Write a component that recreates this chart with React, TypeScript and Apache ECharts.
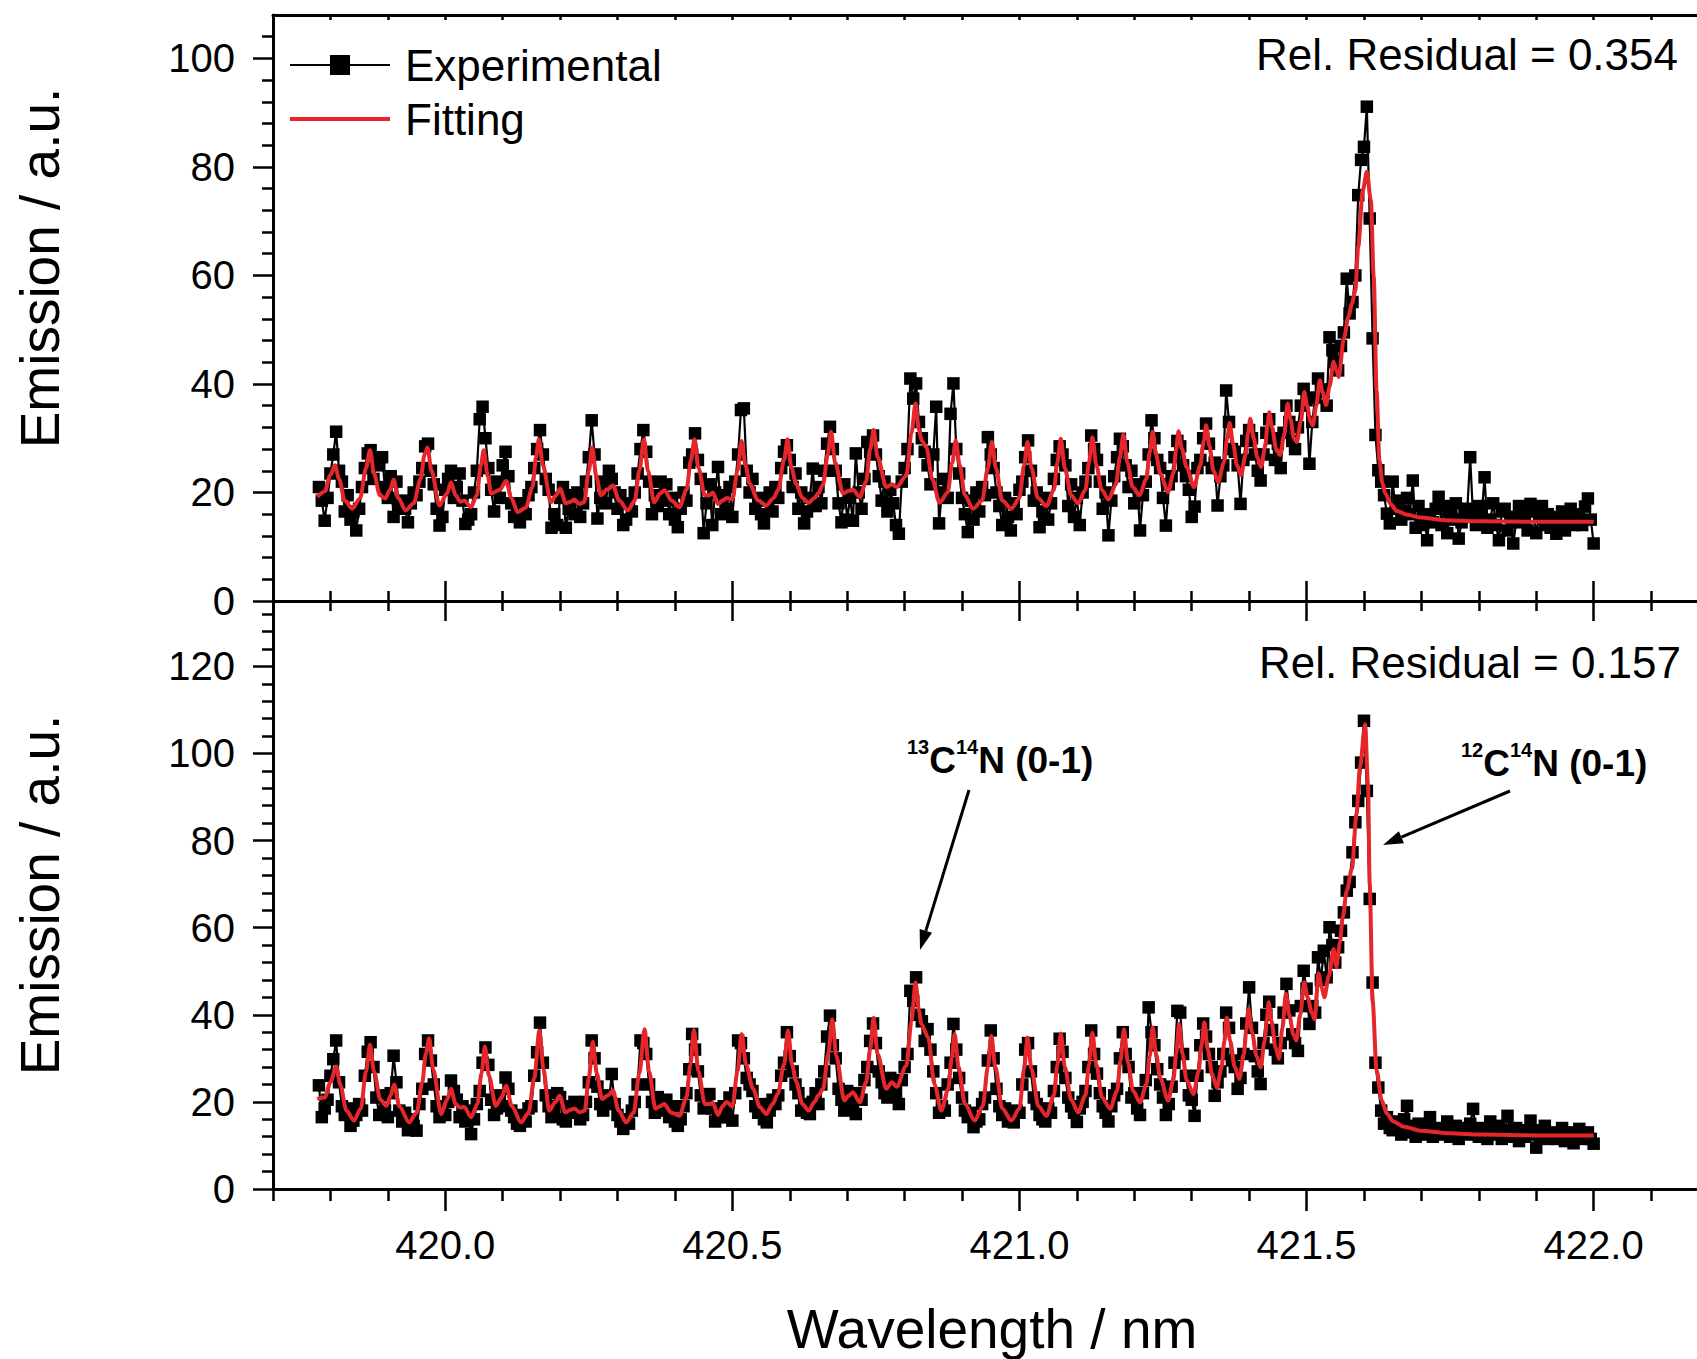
import { useEffect, useRef } from "react";
import * as echarts from "echarts";

// ---------------- data ----------------
// Experimental spectra are sampled on a uniform wavelength grid.
const WL_START = 419.78;
const WL_STEP = 0.005;

// Upper panel, experimental emission (a.u.), one row = 0.05 nm
const topExperimental: number[] = [
  21.0, 18.5, 14.8, 19.0, 23.5, 27.0, 31.2, 24.0, 22.0, 16.5,
  19.5, 15.0, 16.5, 13.0, 17.0, 21.0, 24.5, 27.2, 27.8, 22.5,
  26.0, 25.0, 26.5, 21.0, 19.0, 23.0, 15.5, 22.0, 17.0, 18.5,
  17.0, 14.5, 18.0, 20.0, 19.5, 22.0, 24.5, 28.5, 29.0, 24.0,
  21.5, 17.0, 13.9, 15.5, 20.5, 22.5, 24.0, 19.0, 21.0, 23.5,
  18.5, 14.2, 15.0, 16.0, 20.0, 24.0, 33.5, 35.8, 30.0, 24.5,
  20.5, 16.5, 22.0, 19.0, 25.0, 27.5, 23.0, 18.0, 15.5, 17.0,
  14.5, 18.0, 16.0, 19.5, 21.0, 24.5, 28.0, 31.5, 27.0, 22.5,
  20.5, 13.5, 16.0, 14.0, 19.0, 21.0, 13.5, 17.0, 19.5, 16.0,
  20.0, 15.5, 18.0, 22.0, 26.5, 33.3, 27.0, 15.2, 19.0, 22.0,
  18.0, 24.0, 22.5, 20.0, 17.0, 19.5, 14.0, 15.0, 18.0, 16.5,
  20.0, 23.5, 28.0, 31.5, 27.5, 22.0, 16.0, 19.5, 17.5, 22.0,
  18.5, 21.5, 16.0, 19.0, 15.0, 13.6, 17.0, 20.0, 18.5, 25.5,
  27.0, 30.9, 26.0, 22.5, 12.5, 18.0, 21.5, 14.0, 20.0, 24.7,
  16.0, 19.5, 17.0, 21.0, 15.5, 22.0, 27.0, 35.2, 35.5, 24.0,
  20.0, 22.5, 17.0, 19.0, 16.0, 14.3, 18.5, 20.0, 16.5, 21.0,
  19.0, 24.5, 27.5, 28.7, 26.0, 21.0, 23.5, 17.0, 20.0, 14.3,
  16.5, 19.0, 24.4, 17.5, 21.0, 18.0, 24.0, 29.0, 32.1, 28.0,
  24.0, 18.0, 14.5, 21.5, 15.0, 19.0, 14.8, 27.2, 20.0, 17.0,
  22.5, 29.3, 27.5, 30.5, 27.0, 23.0, 18.5, 22.0, 16.5, 20.5,
  18.0, 14.0, 12.4, 22.0, 24.5, 28.0, 41.0, 37.3, 40.1, 33.0,
  30.0, 27.5, 25.0, 21.5, 27.0, 35.8, 14.3, 20.0, 22.5, 19.0,
  34.5, 40.1, 28.0, 23.5, 19.0, 16.0, 12.7, 18.5, 15.0, 20.0,
  16.5, 21.0, 19.5, 30.2, 27.0, 24.5, 20.0, 17.5, 14.0, 19.0,
  15.5, 13.0, 18.0, 16.0, 20.5, 22.0, 26.5, 29.6, 24.0, 18.5,
  20.0, 13.6, 16.5, 19.0, 15.0, 18.0, 22.5, 26.0, 28.5, 27.0,
  25.0, 17.5, 21.5, 15.5, 19.0, 14.0, 20.0, 22.0, 24.5, 30.5,
  28.0, 26.0, 22.0, 17.0, 20.0, 12.1, 18.5, 23.0, 26.5, 29.9,
  28.5, 25.0, 21.0, 24.0, 18.0, 21.5, 13.0, 19.5, 22.0, 27.0,
  33.3, 30.0, 26.0, 24.5, 19.0, 13.9, 21.5, 23.0, 26.5, 29.5,
  28.5, 25.0, 23.0, 20.5, 15.5, 17.4, 24.5, 26.0, 30.0, 32.7,
  29.0, 24.5, 25.5, 17.6, 23.0, 25.0, 38.8, 33.0, 28.0, 27.5,
  25.0, 17.9, 26.0, 29.5, 31.5, 30.0, 27.0, 24.0, 22.2, 27.0,
  31.0, 33.5, 30.0, 26.0, 29.0, 24.5, 31.0, 36.0, 33.0, 29.5,
  28.0, 32.0, 36.0, 39.1, 37.0, 25.3, 33.0, 37.5, 41.0, 39.0,
  38.5, 36.0, 48.6, 46.2, 44.0, 42.5, 47.0, 49.5, 59.4, 53.0,
  55.1, 60.0, 74.8, 81.3, 83.7, 91.1, 70.5, 48.4, 30.6, 24.1,
  22.0, 19.5, 16.1, 14.3, 22.0, 17.0, 18.5, 15.0, 16.5, 19.0,
  16.0, 22.2, 13.5, 17.5, 14.0, 15.5, 11.2, 16.0, 14.5, 17.0,
  19.2, 14.0, 17.5, 12.5, 16.0, 15.0, 18.0, 11.5, 14.5, 16.5,
  17.0, 26.5, 15.5, 14.0, 17.5, 16.0, 22.8, 13.5, 15.0, 18.0,
  14.0, 11.2, 16.5, 17.0, 13.0, 15.5, 10.6, 14.5, 17.5, 16.0,
  15.0, 13.0, 17.9, 16.5, 12.5, 15.5, 17.5, 14.0, 16.0, 13.5,
  15.5, 12.4, 14.5, 16.5, 13.0, 15.0, 17.0, 14.0, 16.0, 15.0,
  14.0, 17.4, 18.9, 15.0, 10.6,
];

// Lower panel, experimental emission (a.u.)
const bottomExperimental: number[] = [
  23.8, 16.5, 18.5, 20.5, 26.0, 29.8, 34.1, 24.5, 19.0, 17.0,
  18.5, 14.5, 15.7, 17.0, 19.5, 18.0, 26.0, 31.5, 33.7, 28.0,
  21.0, 17.0, 21.5, 18.0, 16.5, 22.0, 30.6, 24.5, 18.0, 15.5,
  17.5, 13.5, 16.0, 14.5, 13.4, 19.5, 23.0, 31.0, 34.1, 29.5,
  24.0, 19.0, 16.5, 18.5, 17.0, 20.0, 24.9, 22.5, 20.5, 16.5,
  19.0, 15.5, 18.0, 12.6, 16.0, 19.5, 22.5, 29.0, 32.5, 28.5,
  20.5, 17.0, 18.5, 21.5, 19.0, 25.6, 23.0, 18.0, 16.5, 15.0,
  14.5, 17.0, 15.5, 18.5, 19.0, 26.0, 31.4, 38.2, 29.0, 21.5,
  19.0, 16.5, 18.5, 22.0, 21.1, 16.0, 15.5, 19.0, 17.5, 20.0,
  18.5, 16.0, 17.0, 20.0, 24.5, 34.1, 30.0, 23.5, 19.5, 18.0,
  21.5, 20.0, 26.4, 19.5, 17.0, 15.5, 13.8, 16.0, 15.0, 18.0,
  20.0, 24.0, 34.1, 33.5, 31.0, 24.0, 20.0, 17.5, 21.1, 18.0,
  18.5, 20.5, 16.5, 19.0, 15.5, 14.5, 16.0, 19.0, 22.0, 27.5,
  35.6, 32.0, 27.0, 21.5, 18.5, 20.0, 21.8, 18.5, 15.5, 17.5,
  16.5, 19.0, 16.5, 21.0, 15.7, 22.0, 34.1, 33.5, 30.0, 25.5,
  24.0, 22.5, 19.0, 17.5, 19.5, 16.0, 15.3, 18.0, 20.5, 19.5,
  21.5, 26.0, 29.0, 36.0, 30.5, 27.0, 24.0, 22.0, 18.0, 19.5,
  17.5, 17.2, 20.0, 22.0, 19.5, 24.0, 27.0, 35.0, 39.8, 33.0,
  30.0, 23.0, 20.5, 18.0, 22.5, 21.0, 19.5, 17.2, 22.0, 20.5,
  25.0, 28.0, 34.0, 38.0, 33.5, 27.0, 24.5, 22.0, 21.0, 25.5,
  23.0, 22.0, 19.5, 25.0, 28.0, 31.0, 45.5, 43.2, 48.6, 40.0,
  38.5, 34.0, 36.7, 32.0, 27.0, 22.0, 17.5, 19.0, 18.0, 24.0,
  29.0, 37.9, 32.0, 25.5, 21.0, 18.0, 16.5, 17.5, 14.2, 15.5,
  16.0, 19.5, 21.0, 29.5, 36.4, 30.0, 23.0, 19.0, 17.0, 18.5,
  15.5, 16.5, 15.3, 18.0, 17.5, 24.0, 32.0, 33.5, 27.0, 21.0,
  19.5, 17.0, 16.0, 15.5, 18.5, 17.5, 22.5, 28.0, 34.5, 31.5,
  25.5, 21.0, 19.0, 17.5, 15.4, 18.5, 20.0, 22.5, 28.0, 36.4,
  31.0, 26.5, 22.0, 19.0, 17.5, 15.5, 19.0, 21.5, 23.0, 30.0,
  36.0, 31.0, 28.0, 21.0, 22.0, 18.5, 17.0, 22.0, 25.0, 41.7,
  36.0, 33.0, 27.5, 24.0, 21.0, 17.0, 19.5, 23.5, 29.0, 40.9,
  40.5, 31.0, 26.0, 21.5, 20.5, 16.8, 26.0, 33.0, 38.0, 35.0,
  31.0, 28.0, 21.4, 24.5, 27.0, 31.0, 40.5, 37.0, 29.5, 28.0,
  23.0, 25.5, 31.0, 38.0, 46.3, 37.0, 30.5, 27.0, 24.1, 33.5,
  40.0, 43.0, 36.5, 32.0, 30.0, 33.5, 40.5, 47.1, 41.0, 35.5,
  33.5, 31.7, 42.0, 50.1, 46.0, 37.9, 42.0, 40.5, 53.2, 48.0,
  54.7, 48.6, 60.1, 56.0, 52.0, 55.5, 59.3, 63.5, 68.5, 70.5,
  77.3, 84.2, 89.1, 97.9, 107.5, 91.4, 66.6, 47.4, 29.0, 23.3,
  18.0, 15.0, 16.5, 14.0, 13.5, 15.5, 14.5, 12.5, 16.0, 19.1,
  13.0, 14.5, 12.0, 15.0, 13.5, 12.5, 14.0, 16.5, 12.0, 13.5,
  14.0, 12.5, 13.0, 15.5, 12.0, 13.5, 14.5, 11.5, 13.0, 14.0,
  12.5, 15.0, 18.4, 13.0, 12.0, 14.0, 13.5, 11.5, 15.5, 12.5,
  13.0, 14.5, 11.5, 12.5, 16.8, 13.5, 12.0, 14.0, 11.0, 13.5,
  12.0, 13.5, 15.7, 12.5, 9.5, 13.5, 12.0, 14.5, 11.5, 12.5,
  13.0, 11.5, 12.5, 14.0, 11.0, 12.5, 13.0, 10.5, 12.0, 13.8,
  12.0, 11.5, 13.0, 11.5, 10.4,
];

// Upper panel, fitted curve [wavelength nm, emission]
const topFitting: number[][] = [
  [419.777, 19.2], [419.79, 20.2], [419.8, 23.2], [419.808, 25.0], [419.815, 22.5], [419.825, 18.5], [419.838, 17.0],
  [419.852, 19.0], [419.862, 24.5], [419.869, 27.8], [419.876, 23.5], [419.886, 19.5], [419.895, 18.9], [419.904, 20.5], [419.91, 22.4], [419.918, 19.0], [419.931, 16.7],
  [419.945, 18.0], [419.957, 22.5], [419.964, 27.0], [419.969, 28.3], [419.976, 24.0], [419.99, 17.6], [420.003, 19.8], [420.01, 21.9], [420.018, 19.5], [420.026, 18.3], [420.033, 18.5], [420.045, 17.3],
  [420.055, 19.5], [420.062, 25.0], [420.067, 27.8], [420.074, 23.0], [420.08, 19.8], [420.095, 20.5], [420.106, 22.1], [420.115, 19.0], [420.126, 16.4],
  [420.14, 17.2], [420.152, 21.0], [420.158, 26.5], [420.163, 29.8], [420.17, 25.0], [420.184, 18.2], [420.193, 19.5], [420.2, 20.7], [420.21, 18.0], [420.218, 18.3], [420.225, 18.7], [420.233, 17.9], [420.242, 18.2],
  [420.25, 24.0], [420.256, 28.3], [420.263, 23.0], [420.271, 19.5], [420.283, 20.6], [420.292, 21.3], [420.303, 18.5], [420.318, 16.7],
  [420.33, 18.5], [420.338, 24.0], [420.346, 29.8], [420.353, 24.0], [420.364, 18.2], [420.374, 19.8], [420.382, 20.4], [420.394, 18.5], [420.408, 17.3],
  [420.42, 20.5], [420.428, 26.0], [420.434, 29.8], [420.441, 24.5], [420.452, 19.5], [420.46, 19.5], [420.466, 20.0], [420.475, 17.9], [420.483, 18.5], [420.49, 19.0], [420.5, 18.7],
  [420.509, 24.0], [420.516, 29.5], [420.523, 25.0], [420.53, 21.6], [420.545, 18.5], [420.559, 17.6], [420.572, 19.0], [420.58, 20.5], [420.59, 26.0], [420.596, 29.8], [420.603, 24.5], [420.611, 21.6], [420.622, 19.0], [420.633, 18.1],
  [420.643, 19.0], [420.65, 19.9], [420.658, 21.5], [420.666, 27.0], [420.672, 31.2], [420.679, 25.5], [420.693, 19.8], [420.703, 20.3], [420.71, 20.5], [420.722, 19.2],
  [420.733, 22.0], [420.74, 28.0], [420.746, 31.5], [420.753, 26.5], [420.768, 21.0], [420.778, 21.5], [420.786, 21.0], [420.803, 23.1], [420.812, 31.0], [420.819, 36.4], [420.825, 31.5], [420.83, 29.5], [420.838, 28.3], [420.848, 22.5], [420.861, 18.1],
  [420.875, 20.0], [420.883, 25.5], [420.889, 29.6], [420.896, 25.0], [420.905, 19.5], [420.919, 17.0], [420.935, 18.5], [420.945, 24.5], [420.952, 29.3], [420.959, 24.5], [420.97, 18.5], [420.986, 17.0],
  [421.0, 19.0], [421.008, 25.0], [421.014, 29.3], [421.021, 24.5], [421.032, 19.0], [421.047, 17.5],
  [421.06, 20.5], [421.066, 25.5], [421.072, 29.9], [421.079, 24.5], [421.09, 19.5], [421.102, 18.0], [421.115, 20.5], [421.121, 25.5], [421.127, 30.2], [421.134, 25.0], [421.143, 20.5], [421.155, 18.7],
  [421.168, 21.5], [421.175, 26.5], [421.181, 30.7], [421.188, 25.5], [421.197, 21.0], [421.209, 19.5], [421.221, 22.5], [421.227, 27.5], [421.232, 31.2], [421.238, 27.0], [421.245, 23.5], [421.259, 20.1],
  [421.268, 23.5], [421.273, 28.0], [421.277, 31.3], [421.283, 28.0], [421.291, 24.7], [421.304, 21.0],
  [421.315, 25.0], [421.321, 29.5], [421.325, 32.4], [421.331, 28.5], [421.338, 24.0], [421.346, 21.9], [421.356, 25.5], [421.362, 30.0], [421.366, 32.8], [421.372, 29.0], [421.379, 25.0], [421.386, 23.2],
  [421.394, 27.0], [421.398, 31.0], [421.402, 33.6], [421.408, 30.0], [421.414, 26.5], [421.421, 24.7], [421.428, 28.5], [421.432, 32.5], [421.435, 34.8], [421.44, 32.0], [421.447, 28.0], [421.454, 26.9],
  [421.461, 30.5], [421.467, 36.4], [421.472, 33.5], [421.478, 30.0], [421.483, 29.3], [421.49, 33.0], [421.496, 38.5], [421.501, 36.0], [421.507, 33.0], [421.511, 32.4], [421.517, 36.0], [421.523, 40.7],
  [421.528, 38.5], [421.534, 36.1], [421.54, 39.5], [421.547, 44.1], [421.552, 42.5], [421.556, 41.3], [421.565, 48.4], [421.573, 52.4], [421.579, 54.8], [421.585, 57.3], [421.59, 65.3], [421.598, 75.7],
  [421.605, 79.1], [421.612, 73.9], [421.617, 59.7], [421.622, 38.8], [421.627, 25.9], [421.632, 21.8], [421.637, 19.8], [421.647, 17.8], [421.657, 16.6], [421.675, 15.9], [421.698, 15.4], [421.74, 14.9],
  [421.8, 14.7], [421.9, 14.6], [422.0, 14.6],
];

// Lower panel, fitted curve [wavelength nm, emission]
const bottomFitting: number[][] = [
  [419.777, 20.7], [419.79, 21.0], [419.8, 24.5], [419.81, 28.1], [419.817, 24.0], [419.828, 18.0], [419.841, 15.7],
  [419.853, 18.5], [419.862, 27.0], [419.869, 33.1], [419.876, 27.0], [419.887, 20.5], [419.898, 19.1], [419.905, 21.5], [419.911, 24.0], [419.92, 19.0], [419.937, 15.3],
  [419.95, 17.5], [419.96, 24.5], [419.966, 31.0], [419.972, 34.6], [419.979, 27.5], [419.993, 17.2], [420.003, 20.5], [420.01, 23.0], [420.018, 19.5], [420.026, 18.7], [420.033, 18.8], [420.045, 16.5],
  [420.056, 19.5], [420.063, 26.5], [420.069, 32.7], [420.076, 26.0], [420.088, 19.1], [420.098, 21.0], [420.106, 23.7], [420.116, 19.0], [420.132, 15.3],
  [420.145, 17.5], [420.155, 25.5], [420.164, 36.4], [420.171, 27.5], [420.181, 18.0], [420.192, 20.0], [420.199, 21.4], [420.209, 17.6], [420.218, 18.2], [420.225, 18.5], [420.234, 17.6], [420.243, 18.0],
  [420.25, 25.5], [420.257, 33.8], [420.264, 26.5], [420.273, 20.7], [420.284, 21.5], [420.292, 22.6], [420.302, 18.0], [420.315, 15.3],
  [420.328, 17.5], [420.338, 26.5], [420.347, 36.7], [420.355, 27.0], [420.366, 18.4], [420.374, 19.0], [420.381, 19.5], [420.394, 17.5], [420.408, 16.8],
  [420.42, 21.0], [420.427, 28.5], [420.433, 36.5], [420.441, 27.0], [420.452, 19.5], [420.46, 19.5], [420.466, 19.8], [420.475, 17.0], [420.483, 19.0], [420.49, 20.0], [420.5, 19.0],
  [420.509, 27.0], [420.516, 35.6], [420.524, 28.5], [420.536, 23.0], [420.548, 18.8], [420.559, 17.2], [420.57, 19.5], [420.579, 21.8], [420.59, 28.5], [420.597, 36.4], [420.604, 28.5], [420.611, 24.7], [420.622, 19.5], [420.633, 18.0],
  [420.643, 20.0], [420.65, 21.5], [420.658, 23.0], [420.667, 31.0], [420.674, 39.0], [420.681, 30.5], [420.695, 20.3], [420.703, 21.5], [420.71, 22.2], [420.722, 19.9],
  [420.733, 24.5], [420.74, 32.0], [420.746, 39.3], [420.753, 31.0], [420.768, 23.0], [420.778, 24.5], [420.786, 23.5], [420.803, 28.3], [420.812, 38.5], [420.819, 47.4], [420.825, 41.0], [420.829, 37.9], [420.841, 34.8], [420.852, 24.0], [420.864, 18.0],
  [420.876, 23.0], [420.882, 30.0], [420.887, 35.6], [420.894, 28.0], [420.905, 19.5], [420.922, 15.7], [420.936, 19.0], [420.945, 28.0], [420.951, 35.2], [420.958, 28.0], [420.97, 18.5], [420.986, 15.7],
  [421.0, 18.5], [421.008, 27.5], [421.014, 34.8], [421.021, 27.5], [421.033, 19.0], [421.047, 16.8],
  [421.06, 21.5], [421.066, 28.5], [421.072, 35.7], [421.079, 28.0], [421.09, 20.5], [421.102, 17.6], [421.115, 21.5], [421.121, 28.5], [421.127, 35.9], [421.134, 28.5], [421.144, 21.0], [421.158, 18.4],
  [421.17, 22.5], [421.176, 29.5], [421.182, 36.7], [421.189, 29.0], [421.198, 22.5], [421.21, 19.9], [421.221, 24.0], [421.227, 30.5], [421.232, 37.1], [421.238, 31.0], [421.245, 25.5], [421.259, 20.3],
  [421.268, 25.0], [421.273, 31.0], [421.278, 37.9], [421.284, 31.0], [421.291, 25.0], [421.303, 21.8],
  [421.312, 27.0], [421.317, 33.0], [421.322, 38.3], [421.328, 32.0], [421.336, 26.0], [421.344, 23.3], [421.352, 28.0], [421.357, 34.0], [421.361, 39.4], [421.367, 34.0], [421.375, 28.0], [421.383, 25.3],
  [421.391, 31.0], [421.395, 36.5], [421.399, 41.3], [421.405, 36.0], [421.413, 30.5], [421.42, 27.9], [421.427, 34.0], [421.431, 39.0], [421.434, 42.9], [421.439, 38.5], [421.446, 32.5], [421.452, 29.9],
  [421.458, 37.0], [421.464, 44.8], [421.47, 40.0], [421.477, 35.5], [421.482, 34.1], [421.489, 40.0], [421.496, 47.4], [421.502, 44.0], [421.509, 40.5], [421.514, 39.0], [421.521, 49.4], [421.526, 46.5],
  [421.531, 44.0], [421.539, 49.0], [421.547, 55.1], [421.552, 51.0], [421.558, 56.5], [421.563, 62.4], [421.57, 68.5], [421.579, 73.5], [421.587, 86.1], [421.593, 96.8], [421.602, 106.7], [421.607, 93.0],
  [421.61, 70.0], [421.615, 43.2], [421.622, 27.2], [421.631, 20.3], [421.64, 17.3], [421.651, 15.5], [421.67, 14.3], [421.698, 13.4], [421.75, 12.8], [421.802, 12.5], [421.9, 12.3], [422.0, 12.3],
];

// Axes / ticks
const X_MIN = 419.7;
const X_MAX = 422.18;
const xMajorTicks = [420.0, 420.5, 421.0, 421.5, 422.0];
const topYMajor = [0, 20, 40, 60, 80, 100];
const bottomYMajor = [0, 20, 40, 60, 80, 100, 120];
const TOP_Y_MAX = 108;
const BOTTOM_Y_MAX = 135;

const topResidualText = "Rel. Residual = 0.354";
const bottomResidualText = "Rel. Residual = 0.157";
const yTitle = "Emission / a.u.";
const xTitle = "Wavelength / nm";

// ---------------- styling ----------------
const RED = "#e5262a";
const FONT = "'Liberation Sans', Arial, Helvetica, sans-serif";
const W = 1697;
const H = 1359;
const GRID_LEFT = 273;
const MID_Y = 601;

function toPairs(values: number[]) {
  return values.map((v, i) => [Number((WL_START + i * WL_STEP).toFixed(3)), v]);
}

function tenths(): number[] {
  const out: number[] = [];
  for (let k = 0; k <= 24; k++) out.push(Number((419.7 + k * 0.1).toFixed(1)));
  return out;
}
const xAllTenths = tenths();
const xMinorTicks = xAllTenths.filter((v) => !xMajorTicks.some((m) => Math.abs(m - v) < 1e-6));

function yMinor(max: number): number[] {
  const out: number[] = [];
  for (let v = 4; v <= max; v += 4) if (v % 20 !== 0) out.push(v);
  return out;
}

function xAxisDef(
  gridIndex: number,
  position: "top" | "bottom",
  ticks: number[],
  tickLen: number,
  inside: boolean,
  showLine: boolean,
  labels: boolean
) {
  return {
    type: "value",
    gridIndex,
    position,
    min: X_MIN,
    max: X_MAX,
    axisLine: { show: showLine, onZero: false, lineStyle: { color: "#000", width: 3 } },
    axisTick: {
      show: true,
      inside,
      length: tickLen,
      customValues: ticks,
      lineStyle: { color: "#000", width: 2.5 },
    },
    axisLabel: labels
      ? {
          show: true,
          customValues: xMajorTicks,
          formatter: (v: number) => v.toFixed(1),
          fontSize: 40,
          fontFamily: FONT,
          color: "#000",
          margin: 36,
        }
      : { show: false },
    splitLine: { show: false },
  };
}

function yAxisDef(
  gridIndex: number,
  max: number,
  ticks: number[],
  tickLen: number,
  showLine: boolean,
  labels: number[] | null
) {
  return {
    type: "value",
    gridIndex,
    position: "left",
    min: 0,
    max,
    axisLine: { show: showLine, onZero: false, lineStyle: { color: "#000", width: 3 } },
    axisTick: {
      show: true,
      inside: false,
      length: tickLen,
      customValues: ticks,
      lineStyle: { color: "#000", width: 2.5 },
    },
    axisLabel: labels
      ? {
          show: true,
          customValues: labels,
          fontSize: 40,
          fontFamily: FONT,
          color: "#000",
          margin: 38,
        }
      : { show: false },
    splitLine: { show: false },
  };
}

function arrow(x1: number, y1: number, x2: number, y2: number) {
  const dx = x2 - x1;
  const dy = y2 - y1;
  const len = Math.sqrt(dx * dx + dy * dy);
  const ux = dx / len;
  const uy = dy / len;
  const headLen = 20;
  const headHalf = 6.5;
  const bx = x2 - ux * headLen;
  const by = y2 - uy * headLen;
  const nx = -uy;
  const ny = ux;
  return [
    {
      type: "line",
      shape: { x1, y1, x2: bx, y2: by },
      style: { stroke: "#000", lineWidth: 3 },
      z: 100,
    },
    {
      type: "polygon",
      shape: {
        points: [
          [x2, y2],
          [bx + nx * headHalf, by + ny * headHalf],
          [bx - nx * headHalf, by - ny * headHalf],
        ],
      },
      style: { fill: "#000" },
      z: 100,
    },
  ];
}

function plainText(
  text: string,
  x: number,
  y: number,
  size: number,
  align: string,
  rotation = 0
) {
  return {
    type: "text",
    x,
    y,
    rotation,
    z: 100,
    style: {
      text,
      fontSize: size,
      fontFamily: FONT,
      fill: "#000",
      align,
      textAlign: align,
      verticalAlign: "middle",
      textVerticalAlign: "middle",
    },
  };
}

function isotopeLabel(mass: string, x: number, top: number) {
  return {
    type: "text",
    x,
    y: top,
    z: 100,
    style: {
      text: `{s|${mass}}{m|C}{s|14}{m|N (0-1)}`,
      fill: "#000",
      align: "left",
      verticalAlign: "top",
      rich: {
        s: {
          fontSize: 20,
          fontWeight: "bold",
          fontFamily: FONT,
          lineHeight: 20,
          verticalAlign: "top",
          fill: "#000",
        },
        m: {
          fontSize: 37,
          fontWeight: "bold",
          fontFamily: FONT,
          lineHeight: 46,
          verticalAlign: "middle",
          fill: "#000",
        },
      },
    },
  };
}

export default function App() {
  const ref = useRef<HTMLDivElement>(null);

  useEffect(() => {
    if (!ref.current) return;
    const chart = echarts.init(ref.current, undefined, { renderer: "svg" });

    const expSeries = (xAxisIndex: number, yAxisIndex: number, values: number[]) => ({
      type: "line",
      name: "Experimental",
      xAxisIndex,
      yAxisIndex,
      data: toPairs(values),
      symbol: "rect",
      symbolSize: 12.5,
      showSymbol: true,
      showAllSymbol: true,
      itemStyle: { color: "#000" },
      lineStyle: { color: "#000", width: 2.2 },
      z: 2,
      silent: true,
    });
    const fitSeries = (xAxisIndex: number, yAxisIndex: number, data: number[][]) => ({
      type: "line",
      name: "Fitting",
      xAxisIndex,
      yAxisIndex,
      data,
      showSymbol: false,
      symbol: "none",
      smooth: 0.3,
      smoothMonotone: "x",
      lineStyle: { color: RED, width: 4 },
      z: 3,
      silent: true,
    });

    const option: any = {
      animation: false,
      backgroundColor: "#fff",
      grid: [
        { left: GRID_LEFT, top: 15, width: W - GRID_LEFT, height: MID_Y - 15, containLabel: false, outerBoundsMode: "none" },
        { left: GRID_LEFT, top: MID_Y, width: W - GRID_LEFT, height: 1189 - MID_Y, containLabel: false, outerBoundsMode: "none" },
      ],
      xAxis: [
        xAxisDef(0, "bottom", xMajorTicks, 20, true, true, false), // 0 top panel bottom, majors
        xAxisDef(0, "bottom", xMinorTicks, 10, true, false, false), // 1 top panel bottom, minors
        xAxisDef(0, "top", xAllTenths.slice(1), 5, true, true, false), // 2 top frame
        xAxisDef(1, "bottom", xMajorTicks, 22, false, true, true), // 3 bottom panel bottom, majors
        xAxisDef(1, "bottom", xMinorTicks, 12, false, false, false), // 4 bottom panel bottom, minors
        xAxisDef(1, "top", xMajorTicks, 20, true, false, false), // 5 bottom panel top, majors
        xAxisDef(1, "top", xMinorTicks, 10, true, false, false), // 6 bottom panel top, minors
      ],
      yAxis: [
        yAxisDef(0, TOP_Y_MAX, topYMajor, 20, true, topYMajor),
        yAxisDef(0, TOP_Y_MAX, yMinor(104), 11, false, null),
        yAxisDef(1, BOTTOM_Y_MAX, bottomYMajor, 20, true, bottomYMajor),
        yAxisDef(1, BOTTOM_Y_MAX, yMinor(132), 11, false, null),
      ],
      series: [
        expSeries(0, 0, topExperimental),
        fitSeries(0, 0, topFitting),
        expSeries(3, 2, bottomExperimental),
        fitSeries(3, 2, bottomFitting),
      ],
      graphic: {
        elements: [
          // legend
          { type: "line", shape: { x1: 290, y1: 65, x2: 390, y2: 65 }, style: { stroke: "#000", lineWidth: 2 }, z: 100 },
          { type: "rect", shape: { x: 330, y: 55, width: 20, height: 20 }, style: { fill: "#000" }, z: 100 },
          plainText("Experimental", 405, 65, 44, "left"),
          { type: "line", shape: { x1: 290, y1: 119, x2: 390, y2: 119 }, style: { stroke: RED, lineWidth: 4 }, z: 100 },
          plainText("Fitting", 405, 119, 44, "left"),
          // residual notes
          plainText(topResidualText, 1678, 54, 44, "right"),
          plainText(bottomResidualText, 1681, 662, 44, "right"),
          // axis titles
          plainText(yTitle, 40, 268, 55, "center", Math.PI / 2),
          plainText(yTitle, 40, 895, 55, "center", Math.PI / 2),
          plainText(xTitle, 992, 1329, 55, "center"),
          // annotations
          isotopeLabel("13", 907, 737),
          isotopeLabel("12", 1461, 740),
          ...arrow(969, 790, 920, 950),
          ...arrow(1510, 791, 1383, 845),
        ],
      },
    };

    chart.setOption(option);
    return () => {
      chart.dispose();
    };
  }, []);

  return (
    <div
      ref={ref}
      style={{ position: "absolute", left: 0, top: 0, width: W, height: H, background: "#fff" }}
    />
  );
}
